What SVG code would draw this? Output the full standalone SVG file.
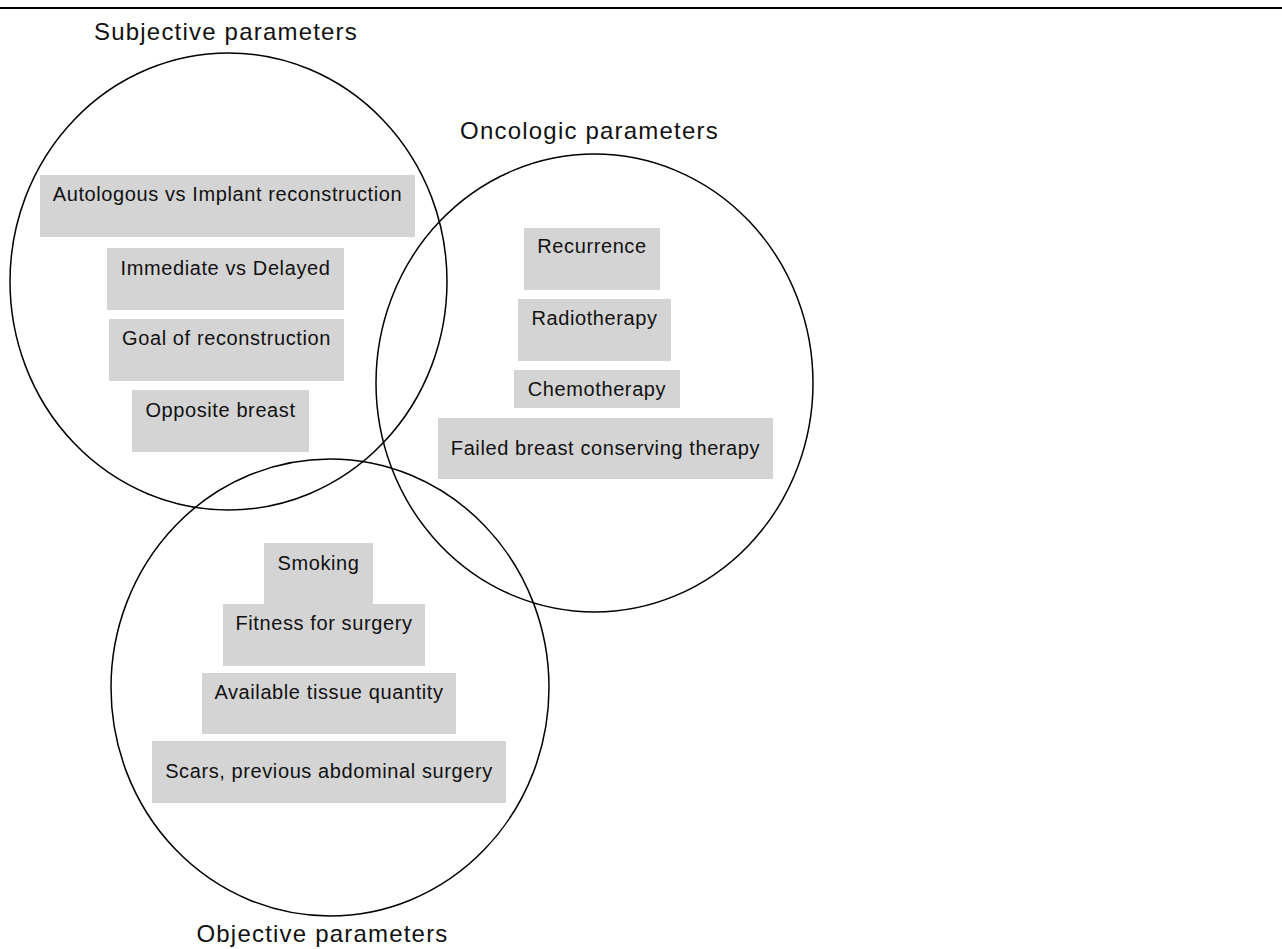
<svg xmlns="http://www.w3.org/2000/svg" width="1282" height="949" viewBox="0 0 1282 949">
<style>
.c{fill:none;stroke:#000;stroke-width:1.5}
.b{fill:#d4d4d4}
.t{font-family:"Liberation Sans",Arial,sans-serif;font-size:20px;letter-spacing:0.6px;fill:#111;text-anchor:middle}
.h{font-family:"Liberation Sans",Arial,sans-serif;font-size:24px;letter-spacing:1.2px;fill:#111;text-anchor:middle}
</style>
<rect x="0" y="0" width="1282" height="949" fill="#fff"/>
<line x1="0" y1="8" x2="1282" y2="8" stroke="#000" stroke-width="2"/>
<g id="subjective">
<ellipse class="c" cx="228.5" cy="281.5" rx="218.5" ry="228.5"/>
<text class="h" x="226" y="40">Subjective parameters</text>
</g>
<g id="oncologic">
<ellipse class="c" cx="594.5" cy="383" rx="218.5" ry="229"/>
<text class="h" x="589.5" y="139">Oncologic parameters</text>
</g>
<g id="objective">
<ellipse class="c" cx="330" cy="687.5" rx="219" ry="228.5"/>
<text class="h" x="322.5" y="942">Objective parameters</text>
</g>
<g id="s1"><rect class="b" x="40" y="175" width="375" height="62"/><text class="t" x="227.5" y="201">Autologous vs Implant reconstruction</text></g>
<g id="s2"><rect class="b" x="107" y="248" width="237" height="62"/><text class="t" x="225.5" y="275">Immediate vs Delayed</text></g>
<g id="s3"><rect class="b" x="109" y="319" width="235" height="62"/><text class="t" x="226.5" y="345">Goal of reconstruction</text></g>
<g id="s4"><rect class="b" x="132" y="390" width="177" height="62"/><text class="t" x="220.5" y="417">Opposite breast</text></g>
<g id="o1"><rect class="b" x="524" y="228" width="136" height="62"/><text class="t" x="592" y="253">Recurrence</text></g>
<g id="o2"><rect class="b" x="518" y="299" width="153" height="62"/><text class="t" x="594.5" y="325">Radiotherapy</text></g>
<g id="o3"><rect class="b" x="514" y="370" width="166" height="38"/><text class="t" x="597" y="396">Chemotherapy</text></g>
<g id="o4"><rect class="b" x="438" y="418" width="335" height="61"/><text class="t" x="605.5" y="455">Failed breast conserving therapy</text></g>
<g id="j1"><rect class="b" x="264" y="543" width="109" height="61"/><text class="t" x="318.5" y="570">Smoking</text></g>
<g id="j2"><rect class="b" x="223" y="604" width="202" height="62"/><text class="t" x="324" y="630">Fitness for surgery</text></g>
<g id="j3"><rect class="b" x="202" y="673" width="254" height="61"/><text class="t" x="329" y="699">Available tissue quantity</text></g>
<g id="j4"><rect class="b" x="152" y="741" width="354" height="62"/><text class="t" x="329" y="778">Scars, previous abdominal surgery</text></g>
<g id="connectors"></g>
</svg>
